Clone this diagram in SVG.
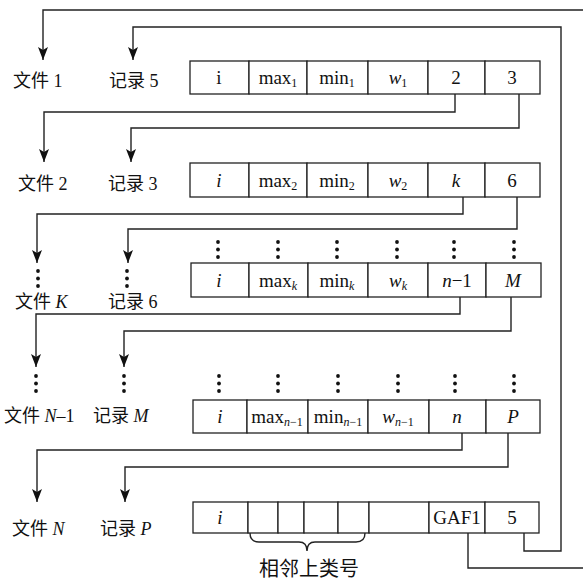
<svg xmlns="http://www.w3.org/2000/svg" width="583" height="582" viewBox="0 0 583 582">
<style>
.c{fill:#fff;stroke:#222;stroke-width:1.3}
.l{fill:none;stroke:#222;stroke-width:1.4}
.t{font-family:"Liberation Serif","Noto Sans CJK SC",serif;font-size:19px;fill:#111;text-anchor:middle}
.lb{font-family:"Liberation Serif","Noto Sans CJK SC",serif;font-size:18px;fill:#111}
.it{font-style:italic}
.s{font-size:12px}
.d{fill:#111}
</style>
<defs>
<marker id="ah" markerWidth="14" markerHeight="10" refX="13" refY="5" orient="auto" markerUnits="userSpaceOnUse" viewBox="0 0 14 10">
<path d="M0,0 L3,5 L0,10 L13,5 Z" fill="#111"/>
</marker>
<g id="dots"><circle cx="0" cy="0" r="1.9"/><circle cx="0" cy="7.5" r="1.9"/><circle cx="0" cy="15" r="1.9"/></g>
</defs>

<g id="connectors">
<polyline class="l" points="583,10 43,10 43,60" marker-end="url(#ah)"/>
<polyline class="l" points="524,533 524,551 561,551 561,27 133,27 133,60" marker-end="url(#ah)"/>
<polyline class="l" points="468,533 468,568 583,568"/>
<polyline class="l" points="455,94 455,112 44,112 44,162" marker-end="url(#ah)"/>
<polyline class="l" points="519,94 519,128 131,128 131,162" marker-end="url(#ah)"/>
<polyline class="l" points="463,197 463,214 37,214 37,263" marker-end="url(#ah)"/>
<polyline class="l" points="517,197 517,229 128,229 128,263" marker-end="url(#ah)"/>
<polyline class="l" points="460,297 460,314 36,314 36,367" marker-end="url(#ah)"/>
<polyline class="l" points="511,297 511,331 124,331 124,367" marker-end="url(#ah)"/>
<polyline class="l" points="462,433 462,450 37,450 37,502" marker-end="url(#ah)"/>
<polyline class="l" points="508,433 508,467 125,467 125,502" marker-end="url(#ah)"/>
<path class="l" d="M250,533 Q250,542 259,542 L299,542 Q307,542 307,551 Q307,542 315,542 L356,542 Q365,542 365,533"/>
</g>

<g id="labels">
<text class="lb" x="13" y="87">文件 1</text>
<text class="lb" x="109" y="87">记录 5</text>
<text class="lb" x="18" y="190">文件 2</text>
<text class="lb" x="108" y="190">记录 3</text>
<text class="lb" x="15" y="308">文件 <tspan class="it">K</tspan></text>
<text class="lb" x="108" y="308">记录 6</text>
<text class="lb" x="4" y="422">文件 <tspan class="it">N</tspan>–1</text>
<text class="lb" x="93" y="422">记录 <tspan class="it">M</tspan></text>
<text class="lb" x="12" y="535">文件 <tspan class="it">N</tspan></text>
<text class="lb" x="100" y="535">记录 <tspan class="it">P</tspan></text>
<text class="lb" x="309" y="576" text-anchor="middle" style="font-size:20px">相邻上类号</text>
</g>

<g id="vdots" class="d">
<use href="#dots" x="38" y="271"/>
<use href="#dots" x="127" y="271"/>
<use href="#dots" x="36" y="376"/>
<use href="#dots" x="124" y="376"/>
<use href="#dots" x="218" y="242"/>
<use href="#dots" x="278" y="242"/>
<use href="#dots" x="337" y="242"/>
<use href="#dots" x="397" y="242"/>
<use href="#dots" x="454" y="242"/>
<use href="#dots" x="514" y="242"/>
<use href="#dots" x="219" y="376"/>
<use href="#dots" x="278" y="376"/>
<use href="#dots" x="338" y="376"/>
<use href="#dots" x="398" y="376"/>
<use href="#dots" x="455" y="376"/>
<use href="#dots" x="514" y="376"/>
</g>

<g id="rec1">
<rect class="c" x="190" y="61" width="59" height="33"/>
<rect class="c" x="249" y="61" width="58" height="33"/>
<rect class="c" x="307" y="61" width="61" height="33"/>
<rect class="c" x="368" y="61" width="60" height="33"/>
<rect class="c" x="428" y="61" width="57" height="33"/>
<rect class="c" x="485" y="61" width="55" height="33"/>
<text class="t" x="219" y="84">i</text>
<text class="t" x="278" y="84">max<tspan class="s" dy="3">1</tspan></text>
<text class="t" x="337" y="84">min<tspan class="s" dy="3">1</tspan></text>
<text class="t" x="398" y="84"><tspan class="it">w</tspan><tspan class="s" dy="3">1</tspan></text>
<text class="t" x="456" y="84">2</text>
<text class="t" x="512" y="84">3</text>
</g>

<g id="rec2">
<rect class="c" x="190" y="163" width="59" height="34"/>
<rect class="c" x="249" y="163" width="58" height="34"/>
<rect class="c" x="307" y="163" width="61" height="34"/>
<rect class="c" x="368" y="163" width="60" height="34"/>
<rect class="c" x="428" y="163" width="57" height="34"/>
<rect class="c" x="485" y="163" width="55" height="34"/>
<text class="t it" x="219" y="187">i</text>
<text class="t" x="278" y="187">max<tspan class="s" dy="3">2</tspan></text>
<text class="t" x="337" y="187">min<tspan class="s" dy="3">2</tspan></text>
<text class="t" x="398" y="187"><tspan class="it">w</tspan><tspan class="s" dy="3">2</tspan></text>
<text class="t it" x="456" y="187">k</text>
<text class="t" x="512" y="187">6</text>
</g>

<g id="rec3">
<rect class="c" x="191" y="263" width="58" height="34"/>
<rect class="c" x="249" y="263" width="59" height="34"/>
<rect class="c" x="308" y="263" width="60" height="34"/>
<rect class="c" x="368" y="263" width="60" height="34"/>
<rect class="c" x="428" y="263" width="58" height="34"/>
<rect class="c" x="486" y="263" width="55" height="34"/>
<text class="t it" x="219" y="287">i</text>
<text class="t" x="278" y="287">max<tspan class="s it" dy="3">k</tspan></text>
<text class="t" x="337" y="287">min<tspan class="s it" dy="3">k</tspan></text>
<text class="t" x="398" y="287"><tspan class="it">w</tspan><tspan class="s it" dy="3">k</tspan></text>
<text class="t" x="457" y="287"><tspan class="it">n</tspan>−1</text>
<text class="t it" x="513" y="287">M</text>
</g>

<g id="rec4">
<rect class="c" x="193" y="400" width="54" height="33"/>
<rect class="c" x="247" y="400" width="61" height="33"/>
<rect class="c" x="308" y="400" width="60" height="33"/>
<rect class="c" x="368" y="400" width="61" height="33"/>
<rect class="c" x="429" y="400" width="57" height="33"/>
<rect class="c" x="486" y="400" width="54" height="33"/>
<text class="t it" x="220" y="423">i</text>
<text class="t" x="277" y="423">max<tspan class="s" dy="3"><tspan class="it">n</tspan>−1</tspan></text>
<text class="t" x="338" y="423">min<tspan class="s" dy="3"><tspan class="it">n</tspan>−1</tspan></text>
<text class="t" x="398" y="423"><tspan class="it">w</tspan><tspan class="s" dy="3"><tspan class="it">n</tspan>−1</tspan></text>
<text class="t it" x="457" y="423">n</text>
<text class="t it" x="513" y="423">P</text>
</g>

<g id="rec5">
<rect class="c" x="193" y="502" width="55" height="31"/>
<rect class="c" x="248" y="502" width="30" height="31"/>
<rect class="c" x="278" y="502" width="26" height="31"/>
<rect class="c" x="304" y="502" width="34" height="31"/>
<rect class="c" x="338" y="502" width="31" height="31"/>
<rect class="c" x="369" y="502" width="60" height="31"/>
<rect class="c" x="429" y="502" width="56" height="31"/>
<rect class="c" x="485" y="502" width="54" height="31"/>
<text class="t it" x="220" y="524">i</text>
<text class="t" x="457" y="524">GAF1</text>
<text class="t" x="512" y="524">5</text>
</g>
</svg>
